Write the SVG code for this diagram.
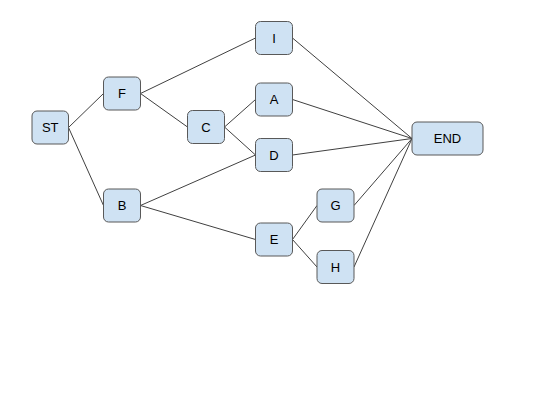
<svg xmlns="http://www.w3.org/2000/svg" width="560" height="420" viewBox="0 0 560 420">
  <style>
    .node rect { fill: #cfe2f3; stroke: #595959; stroke-width: 1; }
    .node text { font-family: "Liberation Sans", Arial, sans-serif; font-size: 13px; fill: #000; text-anchor: middle; dominant-baseline: central; }
    #connectors line { stroke: #404040; stroke-width: 1; }
  </style>
  <rect width="560" height="420" fill="#ffffff"/>
  <g id="connectors">
    <line x1="68.5" y1="127.5" x2="103.5" y2="93.5"/>
    <line x1="68.5" y1="127.5" x2="103.5" y2="205.5"/>
    <line x1="140.5" y1="93.5" x2="255.5" y2="38"/>
    <line x1="140.5" y1="93.5" x2="187.5" y2="127"/>
    <line x1="224.5" y1="127" x2="255.5" y2="99.5"/>
    <line x1="224.5" y1="127" x2="255.5" y2="155"/>
    <line x1="140.5" y1="205.5" x2="255.5" y2="155"/>
    <line x1="140.5" y1="205.5" x2="255.5" y2="239.5"/>
    <line x1="292.5" y1="239.5" x2="317" y2="205.5"/>
    <line x1="292.5" y1="239.5" x2="317" y2="267"/>
    <line x1="292.5" y1="38" x2="412" y2="138.5"/>
    <line x1="292.5" y1="99.5" x2="412" y2="138.5"/>
    <line x1="292.5" y1="155" x2="412" y2="138.5"/>
    <line x1="354" y1="205.5" x2="412" y2="138.5"/>
    <line x1="354" y1="267" x2="412" y2="138.5"/>
  </g>
  <g id="node-ST" class="node"><rect x="32" y="111" width="36.5" height="33" rx="5"/><text x="50.2" y="127.5">ST</text></g>
  <g id="node-F" class="node"><rect x="103.5" y="77" width="37" height="33" rx="5"/><text x="122" y="93.5">F</text></g>
  <g id="node-B" class="node"><rect x="103.5" y="189" width="37" height="33" rx="5"/><text x="122" y="205.5">B</text></g>
  <g id="node-C" class="node"><rect x="187.5" y="110.5" width="37" height="33" rx="5"/><text x="206" y="127">C</text></g>
  <g id="node-I" class="node"><rect x="255.5" y="21.5" width="37" height="33" rx="5"/><text x="274" y="38">I</text></g>
  <g id="node-A" class="node"><rect x="255.5" y="83" width="37" height="33" rx="5"/><text x="274" y="99.5">A</text></g>
  <g id="node-D" class="node"><rect x="255.5" y="138.5" width="37" height="33" rx="5"/><text x="274" y="155">D</text></g>
  <g id="node-E" class="node"><rect x="255.5" y="223" width="37" height="33" rx="5"/><text x="274" y="239.5">E</text></g>
  <g id="node-G" class="node"><rect x="317" y="189" width="37" height="33" rx="5"/><text x="335.5" y="205.5">G</text></g>
  <g id="node-H" class="node"><rect x="317" y="250.5" width="37" height="33" rx="5"/><text x="335.5" y="267">H</text></g>
  <g id="node-END" class="node"><rect x="412" y="122" width="71" height="33" rx="5"/><text x="447.5" y="138.5">END</text></g>
</svg>
